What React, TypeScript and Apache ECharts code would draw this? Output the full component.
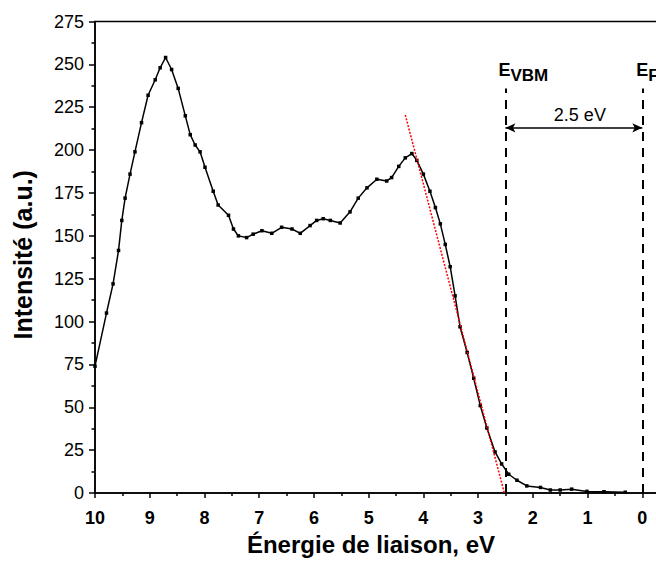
import React, { useEffect, useRef } from "react";
import * as echarts from "echarts";

// Binding energy (eV) and intensity (a.u.)
const energy = [10, 9.79, 9.67, 9.57, 9.51, 9.45, 9.36, 9.27, 9.15, 9.03, 8.9, 8.81, 8.71, 8.6, 8.48, 8.35, 8.26, 8.17, 8.08, 7.99, 7.84, 7.75, 7.56, 7.47, 7.38, 7.23, 7.11, 6.95, 6.77, 6.59, 6.4, 6.25, 6.07, 5.95, 5.83, 5.7, 5.52, 5.34, 5.19, 5.03, 4.85, 4.67, 4.58, 4.45, 4.33, 4.21, 4.12, 4.0, 3.88, 3.78, 3.69, 3.6, 3.51, 3.42, 3.33, 3.2, 3.08, 2.96, 2.84, 2.69, 2.57, 2.44, 2.29, 2.11, 1.86, 1.68, 1.5, 1.29, 1.01, 0.7, 0.31];
const intensity = [74, 105, 122, 141.5, 159, 172, 186, 199, 216, 232, 241, 248, 254, 247, 236, 220, 209, 203, 199, 190, 176, 168, 162, 154, 150, 149, 151, 153, 151.5, 155, 154, 151.5, 156, 159, 160, 159, 157.5, 164, 172, 178, 183, 182, 184, 190.5, 195.5, 198, 194, 186, 176, 166.5, 157, 145, 132, 115, 97, 82, 67, 51, 38, 24, 17, 11, 7.5, 4.2, 3.3, 1.8, 1.8, 2.3, 1.0, 0.8, 0.5];

// Linear tangent (leading edge extrapolation)
const tangentE = [4.33, 2.52];
const tangentI = [220.5, 0];

// Reference energies
const eVBM = 2.5;
const eF = 0;
const markTop = 236;
const arrowLevel = 213;
const gapLabel = "2.5 eV";

const xTicks = { min: -1, max: 10, interval: 1 };
const yTicks = { min: 0, max: 275, interval: 25 };

const FONT = "Liberation Sans, Arial, sans-serif";

export default function App() {
  const ref = useRef<HTMLDivElement>(null);
  useEffect(() => {
    if (!ref.current) return;
    const chart = echarts.init(ref.current, null, { renderer: "svg" });
    const option: any = {
      animation: false,
      textStyle: { fontFamily: FONT },
      grid: {
        left: 95,
        right: 23,
        top: 21.5,
        bottom: 61.5,
        show: true,
        borderColor: "#000",
        borderWidth: 1.5,
        backgroundColor: "transparent",
      },
      xAxis: {
        type: "value",
        inverse: true,
        min: xTicks.min,
        max: xTicks.max,
        interval: xTicks.interval,
        name: "Énergie de liaison, eV",
        nameLocation: "middle",
        nameGap: 36,
        nameTextStyle: {
          fontSize: 24,
          fontWeight: "bold",
          color: "#000",
          fontFamily: FONT,
          padding: [0, 50, 0, 0],
        },
        axisLine: { show: true, onZero: false, lineStyle: { color: "#000", width: 1.5 } },
        axisTick: { show: true, length: 5, lineStyle: { color: "#000", width: 1.5 } },
        minorTick: { show: true, splitNumber: 2, length: 3, lineStyle: { color: "#000", width: 1.5 } },
        axisLabel: {
          color: "#000",
          fontSize: 18,
          fontWeight: "bold",
          fontFamily: FONT,
          margin: 16,
          formatter: (v: number) => (v < 0 ? "" : String(v)),
        },
        splitLine: { show: false },
      },
      yAxis: {
        type: "value",
        min: yTicks.min,
        max: yTicks.max,
        interval: yTicks.interval,
        name: "Intensité (a.u.)",
        nameLocation: "middle",
        nameGap: 60,
        nameTextStyle: {
          fontSize: 25,
          fontWeight: "bold",
          color: "#000",
          fontFamily: FONT,
          padding: [0, 0, 0, 5],
        },
        axisLine: { show: true, onZero: false, lineStyle: { color: "#000", width: 1.5 } },
        axisTick: { show: true, length: 6, lineStyle: { color: "#000", width: 1.5 } },
        minorTick: { show: true, splitNumber: 2, length: 3.5, lineStyle: { color: "#000", width: 1.5 } },
        axisLabel: { color: "#000", fontSize: 18, fontFamily: FONT, margin: 11 },
        splitLine: { show: false },
      },
      series: [
        {
          type: "line",
          data: energy.map((e, i) => [e, intensity[i]]),
          symbol: "rect",
          symbolSize: 3.5,
          itemStyle: { color: "#000" },
          lineStyle: { color: "#000", width: 1.5 },
          silent: true,
          z: 3,
          markLine: {
            silent: true,
            symbol: "none",
            animation: false,
            label: { show: false },
            data: [
              [
                { coord: [eVBM, 0], lineStyle: { type: [9, 7], width: 2, color: "#000" } },
                { coord: [eVBM, markTop] },
              ],
              [
                { coord: [eF, 0], lineStyle: { type: [9, 7], width: 2, color: "#000" } },
                { coord: [eF, markTop] },
              ],
              [
                {
                  coord: [eVBM, arrowLevel],
                  symbol: "arrow",
                  symbolSize: [7, 10],
                  lineStyle: { type: "solid", width: 1.5, color: "#000" },
                  label: {
                    show: true,
                    position: "middle",
                    formatter: gapLabel,
                    color: "#000",
                    fontSize: 18,
                    fontFamily: FONT,
                    distance: 4,
                    padding: [0, 0, 0, 12],
                  },
                },
                { coord: [eF, arrowLevel], symbol: "arrow", symbolSize: [7, 10] },
              ],
            ],
          },
        },
        {
          type: "line",
          data: tangentE.map((e, i) => [e, tangentI[i]]),
          symbol: "none",
          lineStyle: { color: "#ff0000", width: 1.5, type: [2, 1.5] },
          silent: true,
          z: 4,
        },
      ],
    };
    chart.setOption(option);

    const pv = chart.convertToPixel({ gridIndex: 0 }, [eVBM, markTop]) as number[];
    const pf = chart.convertToPixel({ gridIndex: 0 }, [eF, markTop]) as number[];
    const mkLabel = (p: number[], dx: number, sub: string) => [
      {
        type: "text",
        x: p[0] + dx,
        y: p[1] - 9,
        style: {
          text: "E",
          font: `bold 18px ${FONT}`,
          fill: "#000",
          align: "left",
          verticalAlign: "bottom",
        },
      },
      {
        type: "text",
        x: p[0] + dx + 12,
        y: p[1] - 4,
        style: {
          text: sub,
          font: `bold 17px ${FONT}`,
          fill: "#000",
          align: "left",
          verticalAlign: "bottom",
        },
      },
    ];
    chart.setOption({
      graphic: [...mkLabel(pv, -7, "VBM"), ...mkLabel(pf, -6, "F")],
    });
    return () => chart.dispose();
  }, []);

  return (
    <div style={{ position: "fixed", left: 0, top: 0, width: 656, height: 561, overflow: "hidden", background: "#fff" }}>
      <div ref={ref} style={{ width: 720, height: 561 }} />
    </div>
  );
}
